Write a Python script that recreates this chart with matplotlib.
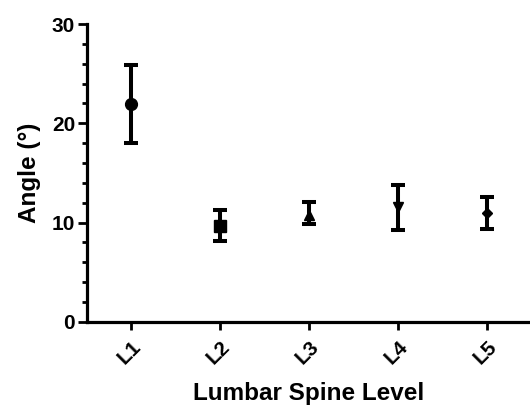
import matplotlib.pyplot as plt
from matplotlib.ticker import MultipleLocator

plt.rcParams['font.family'] = ['Liberation Sans', 'DejaVu Sans']
plt.rcParams['font.weight'] = 'bold'

levels = ['L1', 'L2', 'L3', 'L4', 'L5']
means = [21.9, 9.7, 10.8, 11.6, 11.0]
lower = [18.0, 8.2, 9.9, 9.3, 9.4]
upper = [25.9, 11.3, 12.1, 13.8, 12.6]
markers = ['o', 's', '^', 'v', 'D']
sizes = [8.5, 8, 7, 7, 5.5]

fig = plt.figure(figsize=(5.3, 4.08), dpi=100)
ax = fig.add_axes([0.164, 0.211, 0.836, 0.730])

for i in range(len(levels)):
	ax.errorbar(i, means[i], yerr=[[means[i] - lower[i]], [upper[i] - means[i]]],
		fmt=markers[i], color='black', ms=sizes[i], elinewidth=2.9, capsize=4.8, capthick=2.9)

ax.set_xlim(-0.5, 4.48)
ax.set_ylim(0, 30)
ax.set_xticks(range(len(levels)))
ax.set_xticklabels(levels, rotation=45, ha='right', rotation_mode='anchor', fontsize=15, fontweight='bold')
ax.yaxis.set_major_locator(MultipleLocator(10))
ax.yaxis.set_minor_locator(MultipleLocator(2))
ax.tick_params(axis='y', labelsize=15, width=2, length=6.5, pad=2)
ax.tick_params(axis='y', which='minor', width=2, length=3.5)
ax.tick_params(axis='x', width=2, length=6, pad=5)
for lab in ax.get_yticklabels():
	lab.set_fontweight('bold')

for s in ['top', 'right']:
	ax.spines[s].set_visible(False)
for s in ['left', 'bottom']:
	ax.spines[s].set_linewidth(2.3)

ax.set_xlabel('Lumbar Spine Level', fontsize=17.5, fontweight='bold', labelpad=10)
ax.set_ylabel('Angle (°)', fontsize=17.5, fontweight='bold', labelpad=8)

plt.savefig('out.png', dpi=100)
